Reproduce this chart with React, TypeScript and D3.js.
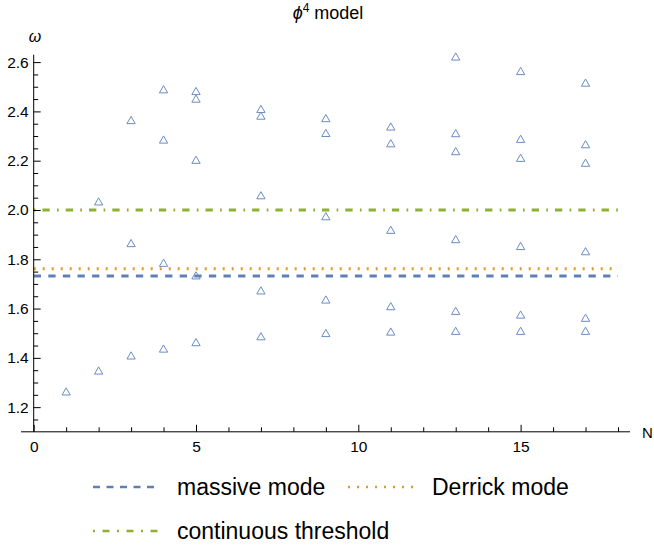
import React, { useEffect, useRef } from "react";
import * as d3 from "d3";

// number of sites N and the frequencies found at each N (ordered low to high)
const sizes = [1, 2, 3, 4, 5, 7, 9, 11, 13, 15, 17];
const modes1 = [1.259, 1.344, 1.405, 1.433, 1.459, 1.483, 1.496, 1.502, 1.505, 1.505, 1.505];
const modes2 = [null, 2.03, 1.861, 1.781, 1.73, 1.669, 1.632, 1.605, 1.586, 1.571, 1.558];
const modes3 = [null, null, 2.36, 2.281, 2.199, 2.055, 1.97, 1.915, 1.877, 1.849, 1.828];
const modes4 = [null, null, null, 2.485, 2.447, 2.378, 2.308, 2.266, 2.234, 2.207, 2.187];
const modes5 = [null, null, null, null, 2.478, 2.405, 2.368, 2.334, 2.307, 2.284, 2.262];
const modes6 = [null, null, null, null, null, null, null, null, 2.618, 2.559, 2.512];

// reference lines
const refNames = ["massive mode", "Derrick mode", "continuous threshold"];
const refValues = [Math.sqrt(3), 1.762, 2.0];
const refColors = ["#5E81B5", "#E19C24", "#8FB032"];
const refDashes = ["7.3,7.3", "2,7", "1.7,7,7.3,7.3"];

const xTicks = [0, 5, 10, 15];
const yTicks = [1.2, 1.4, 1.6, 1.8, 2.0, 2.2, 2.4, 2.6];

const font = "'Liberation Sans', Arial, sans-serif";

const App = () => {
  const svgRef = useRef<SVGSVGElement>(null);

  useEffect(() => {
    const svg = d3.select(svgRef.current);
    svg.selectAll("*").remove();

    const x = d3.scaleLinear().domain([0, 18]).range([33.7, 618]);
    const y = d3.scaleLinear().domain([1.1, 2.6]).range([431.8, 62.1]);

    // title
    const title = svg
      .append("text")
      .attr("x", 328)
      .attr("y", 19)
      .attr("text-anchor", "middle")
      .style("font-family", font)
      .style("font-size", "18px")
      .attr("fill", "#000");
    title.append("tspan").style("font-style", "italic").text("ϕ");
    title.append("tspan").attr("dy", -7).style("font-size", "12px").text("4");
    title.append("tspan").attr("dy", 7).text(" model");

    // reference lines
    svg
      .selectAll("line.ref")
      .data(refValues)
      .join("line")
      .attr("class", "ref")
      .attr("x1", x(0))
      .attr("x2", x(18))
      .attr("y1", (d) => y(d))
      .attr("y2", (d) => y(d))
      .attr("stroke", (d, i) => refColors[i])
      .attr("stroke-width", 3)
      .attr("stroke-dasharray", (d, i) => refDashes[i]);

    // axes
    const axisG = svg.append("g").style("font-family", font);

    const yMajor = d3
      .axisLeft(y)
      .tickValues(yTicks)
      .tickSizeInner(-7)
      .tickSizeOuter(0)
      .tickPadding(5)
      .tickFormat(d3.format(".1f"));
    const yMinor = d3
      .axisLeft(y)
      .tickValues(d3.range(1.15, 2.62, 0.05).filter((v) => Math.abs(v * 5 - Math.round(v * 5)) > 0.01))
      .tickSizeInner(-4.5)
      .tickSizeOuter(0)
      .tickFormat(() => "");
    const xMajor = d3
      .axisBottom(x)
      .tickValues(xTicks)
      .tickSizeInner(-7)
      .tickSizeOuter(0)
      .tickPadding(9)
      .tickFormat(d3.format("d"));
    const xMinor = d3
      .axisBottom(x)
      .tickValues(d3.range(1, 19).filter((v) => v % 5 !== 0))
      .tickSizeInner(-4.5)
      .tickSizeOuter(0)
      .tickFormat(() => "");

    const gy = axisG.append("g").attr("transform", `translate(${x(0)},0)`);
    gy.call(yMajor);
    gy.append("g").call(yMinor);
    const gx = axisG.append("g").attr("transform", `translate(0,${y(1.1)})`);
    gx.call(xMajor);
    gx.append("g").call(xMinor);
    axisG.selectAll(".domain").remove();
    axisG.selectAll("line").attr("stroke", "#000").attr("stroke-width", 1);
    axisG.selectAll("text").style("font-size", "15.5px").attr("fill", "#000");

    axisG
      .append("line")
      .attr("x1", x(0))
      .attr("x2", x(0))
      .attr("y1", y(1.1))
      .attr("y2", y(2.63))
      .attr("stroke", "#000");
    axisG
      .append("line")
      .attr("x1", x(-0.39))
      .attr("x2", x(18.37))
      .attr("y1", y(1.1))
      .attr("y2", y(1.1))
      .attr("stroke", "#000");

    axisG
      .append("text")
      .attr("x", 35)
      .attr("y", 42)
      .attr("text-anchor", "middle")
      .style("font-size", "16px")
      .style("font-style", "italic")
      .text("ω");
    axisG
      .append("text")
      .attr("x", 642)
      .attr("y", y(1.1) + 6)
      .style("font-size", "15px")
      .text("N");

    // data points
    const points = [modes1, modes2, modes3, modes4, modes5, modes6].flatMap((series) =>
      series.map((v, i) => ({ n: sizes[i], v })).filter((p) => p.v !== null)
    );
    const tri = d3.symbol(d3.symbolTriangle, 30);
    svg
      .selectAll("path.pt")
      .data(points)
      .join("path")
      .attr("class", "pt")
      .attr("d", tri)
      .attr("transform", (d) => `translate(${x(d.n)},${y(d.v as number)})`)
      .attr("fill", "none")
      .attr("stroke", "#6B8DC4")
      .attr("stroke-width", 1);

    // legend
    const legendPos = [
      [93, 487],
      [348, 487],
      [93, 531],
    ];
    const legendDashes = ["7,6.5", "2,7", "2,7.5,7,7.5"];
    const lg = svg.append("g").style("font-family", font);
    refNames.forEach((name, i) => {
      const [lx, ly] = legendPos[i];
      lg.append("line")
        .attr("x1", lx)
        .attr("x2", lx + 65)
        .attr("y1", ly)
        .attr("y2", ly)
        .attr("stroke", refColors[i])
        .attr("stroke-width", 2.5)
        .attr("stroke-dasharray", legendDashes[i]);
      lg.append("text")
        .attr("x", lx + 84)
        .attr("y", ly + 8)
        .style("font-size", "23px")
        .attr("fill", "#000")
        .text(name);
    });
  }, []);

  return (
    <svg
      ref={svgRef}
      width={654}
      height={550}
      style={{ position: "absolute", left: 0, top: 0, background: "#fff" }}
    />
  );
};

export default App;
